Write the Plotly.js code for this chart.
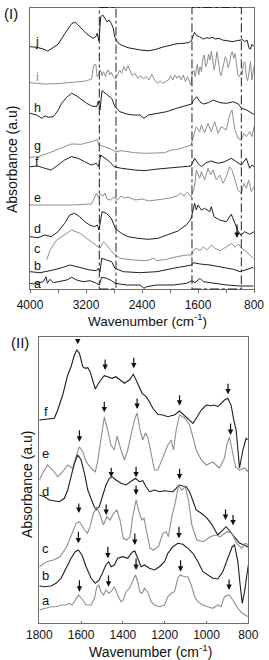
<!DOCTYPE html>
<html>
<head>
<meta charset="utf-8">
<script src="https://cdn.plot.ly/plotly-3.0.1.min.js"></script>
<style>html,body{margin:0;padding:0;background:#fff;}#chart{width:269px;height:660px;}</style>
</head>
<body>
<div id="chart"></div>
<script>
// ---------- Panel (I): wavenumber (cm-1) / absorbance (a.u., offset) ----------
const p1TickVals = [4000, 3200, 2400, 1600, 800];
const p1Bands = [[3010, 2771], [1686, 981]];

const p1_j_wn = [4000,3900,3800,3750,3700,3600,3500,3400,3350,3300,3200,3100,3060,3040,3015,2990,2960,2930,2900,2870,2840,2810,2790,2750,2700,2600,2500,2400,2300,2200,2100,2000,1900,1800,1720,1690,1650,1620,1580,1520,1480,1440,1400,1350,1300,1250,1200,1150,1100,1050,1000,960,930,900,870,850,830,800];
const p1_j_abs = [242.3,241.7,239.7,238,240,244.7,255.7,265.7,266.7,263.3,255.7,250.7,252.3,255.7,248,272.3,274,270.7,267.3,269,265.7,260.7,252.3,246.7,244,241.3,239.7,238.7,238.3,239.7,242,244,245.3,245.7,246.7,249,256.7,253.3,252.3,250,251.3,250.7,251.7,250,250.7,249,248.3,248,247.3,248.3,249,249.3,247.3,249,240.7,240,244.7,242.3];

const p1_i_wn = [4000,3800,3600,3400,3200,3120,3090,3060,3040,3010,2990,2970,2950,2920,2900,2880,2860,2840,2810,2780,2750,2720,2690,2660,2630,2600,2570,2540,2500,2460,2420,2380,2340,2300,2260,2220,2180,2140,2100,2060,2020,1990,1960,1930,1900,1870,1840,1810,1780,1750,1720,1700,1680,1660,1640,1610,1590,1570,1550,1530,1510,1490,1470,1450,1430,1410,1390,1370,1350,1330,1310,1290,1270,1250,1230,1210,1190,1170,1150,1130,1110,1090,1070,1050,1030,1010,990,970,950,930,910,890,870,850,830,810,800];
const p1_i_abs = [206.3,205,205.3,206.7,208,210,224,224.7,212.3,215.7,219,213.3,217.3,212.3,218,219,214,216.7,212.3,210,213.3,219,215.7,222.3,218,223.3,217.3,213.3,215.7,210.7,213.3,210,212.3,209,214.7,209,205.7,208,205.7,207.3,209,213.3,209,214,210.7,213.3,209,214,207.3,212.3,206.7,204,217.3,219,212.3,224.7,214,222.3,217.3,230.7,234,222.3,225.7,234.7,229,238,229,219,225.7,237.3,229,217.3,213.3,220.7,227.3,232.3,229,221.3,225.7,234,237.3,230.7,235.7,225.7,214,212.3,215.7,214,225.7,227.3,212.3,208,220.7,227.3,209,217.3,222.3];

const p1_h_wn = [4000,3905,3833,3786,3738,3667,3595,3548,3476,3405,3333,3262,3190,3119,3048,3024,3000,2971,2905,2833,2786,2714,2619,2524,2429,2371,2310,2190,2048,1905,1762,1690,1667,1619,1571,1524,1452,1381,1286,1190,1095,1024,976,905,810,800];
const p1_h_abs = [175.7,174,170.7,173,171.7,172.3,179,185.7,191.7,195.7,193,189,185.7,183,182.3,188,179,198.3,195,190.7,182.3,177.3,175,174,174,170.7,174,175.7,177.3,180.7,184,185,188.3,192.3,187.3,185,186.3,189,186.3,185.7,187.3,185,180.7,179,175,175];

const p1_g_wn = [4000,3886,3743,3600,3505,3410,3267,3171,3076,3038,3019,2933,2838,2781,2695,2600,2505,2362,2219,2076,1981,1886,1790,1700,1671,1624,1576,1552,1505,1457,1410,1362,1314,1267,1195,1148,1114,1076,1029,981,943,910,862,829,800];
const p1_g_abs = [131.7,132.3,135.7,139.7,143,145,144.7,146.3,148.3,149.7,144,142.3,139.7,137.3,138.3,137.3,136.3,135.7,135.7,136.3,139,139.7,141.7,144,150.7,162.3,157.3,164,156.3,165.7,157.3,167.3,155.7,162.3,159,174,179,160.3,150.7,149,155.7,152.3,157.3,152.3,162.3];

const p1_f_wn = [4000,3886,3790,3695,3600,3505,3410,3314,3219,3124,3052,3019,2990,2933,2862,2800,2695,2505,2362,2219,2029,1886,1743,1700,1648,1600,1552,1481,1410,1314,1219,1124,1052,981,910,862,829,800];
const p1_f_abs = [122.3,123,120.7,119,124,129,132.3,130.7,127.3,124,125.7,122.3,134,130.7,127.3,122.3,120.7,119,118.3,119.7,120.7,121.3,122.3,123,130.7,125.7,122.3,126.3,128,125.7,127.3,130.7,127.3,124,130.7,120.7,124,122.3];

const p1_e_wn = [4000,3400,3120,3080,3050,3020,3000,2960,2930,2900,2850,2800,2750,2700,2650,2600,2500,2400,2300,2200,2100,2000,1900,1850,1800,1750,1700,1680,1648,1624,1576,1552,1505,1457,1419,1386,1338,1290,1243,1195,1148,1114,1076,1029,981,943,910,876,838,800];
const p1_e_abs = [84,84,85,92,96,91,95,93,96,90,89,92,89,93,91,92,89,90,88,89,90,91,93,96,93,97,92,96,102.3,119,110.7,117.3,109,120.7,114,119,109,114,105.7,112.3,122.3,119,109,99,95.7,105.7,100.7,109,97.3,102.3];

const p1_d_wn = [4000,3886,3790,3695,3600,3505,3433,3362,3290,3219,3148,3076,3038,3014,2971,2910,2838,2781,2695,2600,2457,2314,2171,2029,1886,1767,1700,1648,1624,1600,1552,1505,1433,1410,1371,1290,1195,1124,1076,1029,990,933,862,800];
const p1_d_abs = [52.3,51.3,54,52.3,57.3,65.7,74,75.7,72.3,67.3,64,62.3,64,59,77.3,75.7,70.7,60.7,55.7,52.3,50.7,49.7,50.7,54,58,64,70,85.7,79,84,79,80.7,77.3,82.3,72.3,69,67.3,74.7,65.7,58,54,57.3,54.7,57.3];

const p1_c_wn = [3762,3714,3619,3476,3405,3286,3190,3095,3024,3000,2952,2905,2810,2714,2524,2333,2238,2190,2048,1905,1762,1690,1667,1619,1571,1524,1476,1405,1357,1286,1190,1119,1071,1024,976,905,810];
const p1_c_abs = [29,39,49,55.7,59,55.7,50.7,45.7,42.3,40.7,47.3,44,35.7,30.7,29,28.3,30.7,28.3,29.7,32.3,34,34,39,40.7,38.3,42.3,39,44,40.7,38.3,42.3,45.7,41.7,45,40.7,37.3,30.7];

const p1_b_wn = [4000,3857,3714,3571,3429,3286,3143,3048,3024,3000,2976,2905,2833,2786,2667,2429,2190,1952,1762,1690,1667,1571,1429,1286,1095,1000,905,810];
const p1_b_abs = [17.3,16.3,18.3,20.7,24,21.7,19,18.3,20.7,17.3,30.7,29,27.3,20.7,17.3,16.3,17.3,20.7,23,24,26.3,25,24,22.3,19.7,17.3,19.7,21.7];

const p1_a_wn = [4000,3952,3810,3771,3752,3714,3667,3571,3476,3405,3333,3238,3143,3048,3010,2976,2905,2833,2786,2619,2429,2371,2333,2190,1952,1762,1690,1643,1571,1524,1381,1190,1000,810];
const p1_a_abs = [5.7,5,7.3,12.3,5.7,9.7,6.3,7.3,9,11.7,9,7.3,8.3,5.7,4,11.7,10.7,8.3,5.7,4,4,0.7,2.3,4,4,5.7,8.3,6.3,10.7,7.3,5.7,4,3,3];

const p1_labels = ['j','i','h','g','f','e','d','c','b','a'];
const p1_labelAbs = [247,212,181,143.5,127,91,60,40,23,5];
const p1_arrowWn = [1043];
const p1_arrowAbs = [51];

// ---------- Panel (II): 1800-800 cm-1 ----------
const p2TickVals = [1800, 1600, 1400, 1200, 1000, 800];

const p2_f_wn = [1800,1768,1728,1712,1688,1664,1648,1632,1621,1608,1592,1580,1568,1557,1544,1532,1512,1489,1473,1452,1433,1413,1393,1369,1350,1337,1321,1308,1289,1273,1257,1233,1209,1185,1169,1153,1129,1113,1097,1081,1065,1049,1025,1001,978,962,946,930,914,898,882,871,858,842,826,810,804];
const p2_f_abs = [203.3,204,205,213.3,228.3,248.3,256.6,268.3,273.3,270,256.6,255,255.6,251.6,241.6,234.3,241.6,247.6,246.6,245,246.6,243.3,240,243.3,249,243.3,235,230,226.6,221.6,215,209,208.3,206.6,207.6,208.3,212.3,209,206.6,203.3,200,205,213.3,218.3,217.6,218.3,216.6,220,223.3,225,218,205,193,155.3,173.3,185.3,183.3];

const p2_e_wn = [1800,1784,1760,1736,1712,1688,1664,1640,1624,1608,1592,1576,1552,1532,1521,1505,1489,1473,1457,1441,1428,1409,1393,1377,1361,1345,1332,1318,1305,1292,1281,1265,1249,1233,1209,1185,1169,1158,1145,1129,1105,1081,1065,1049,1025,1001,970,938,914,903,890,874,861,842,818,800];
const p2_e_abs = [143.3,150,158.3,153.3,146.6,151.6,158.3,155,166.6,176.6,171.6,161.6,155,151.6,161.6,183.3,206.3,193.3,178.3,173.3,187.3,173.3,163.3,173.3,188.3,203.3,210.3,193.3,183.3,190.3,186.3,168.3,153.3,153.3,165.3,178.3,183.3,173.3,193.3,208.3,205.3,198.3,186.3,173.3,163.3,158.3,161.3,155.3,165.3,178.3,186.3,168.3,156.3,153.3,155.3,151.3];

const p2_d_wn = [1800,1776,1752,1728,1704,1680,1664,1648,1632,1616,1600,1584,1568,1544,1529,1513,1497,1481,1465,1452,1433,1409,1385,1361,1340,1321,1305,1289,1273,1249,1225,1201,1177,1161,1145,1132,1113,1097,1081,1065,1049,1025,1001,978,946,906,874,842,800];
const p2_d_abs = [128.3,126.6,123.3,122.6,121.6,125,133.3,146.6,160,168.3,163.3,150,133.3,120,113.3,116.6,126.6,138.3,145,146.6,143.3,140,138.3,141.6,145,141.6,142.6,136.6,131.6,133.3,131.6,132.6,131.6,131.6,135,138.3,137.3,136.6,131.6,121.6,113.3,110,106,100,88.3,96.6,88.3,80.3,76.3];

const p2_c_wn = [1800,1765,1733,1701,1669,1645,1624,1608,1589,1570,1557,1541,1525,1509,1493,1477,1461,1445,1429,1414,1398,1382,1366,1353,1337,1321,1310,1299,1286,1270,1254,1230,1209,1193,1182,1166,1150,1134,1118,1102,1086,1070,1046,1014,982,958,934,903,879,855,831,815,799];
const p2_c_abs = [56.6,61.6,63.3,66.6,76.6,90,100,101.6,95,90,96.6,110,116.6,108.3,98.3,106.6,103.3,110,113.3,103.3,85,83.3,86.6,106.6,123.3,110,103.3,105,90,75,73.3,76.6,90,91.6,86.6,106.6,120,138,133,137,123,98,83.3,81.6,86.6,88.3,86.6,91.6,90,80,75,80,78.3];

const p2_b_wn = [1800,1776,1744,1720,1696,1672,1648,1628,1613,1596,1576,1552,1532,1513,1497,1481,1468,1457,1441,1425,1401,1377,1356,1343,1329,1313,1297,1273,1249,1225,1201,1185,1161,1137,1113,1089,1065,1041,1017,994,970,946,922,898,877,866,850,839,829,818,807,800];
const p2_b_abs = [37.6,36.6,37.3,40,45,55,65,71.6,73.3,68.3,56.6,45,40,43.3,51.6,58.3,61.6,56.6,58.3,65,66.6,65,71,72.3,65,56.6,58.3,55,53.3,56.6,61.6,70,76.6,80,79,75,70,61.6,51.6,48.3,45,44.3,51.6,65,76.6,78.3,61.6,38.3,20,31.6,48.3,58.3];

const p2_a_wn = [1800,1776,1744,1720,1696,1672,1656,1643,1628,1612,1592,1576,1552,1536,1525,1516,1505,1493,1481,1468,1457,1441,1425,1409,1398,1385,1369,1353,1340,1329,1318,1308,1297,1281,1265,1249,1225,1201,1185,1169,1153,1137,1126,1105,1089,1073,1057,1041,1017,994,970,946,930,914,893,874,850,829,800];
const p2_a_abs = [13.3,15,16.6,16.6,18.3,18.3,20,18.3,23.3,28.3,23.3,18.3,18.3,25,36.6,38.3,31.6,28.3,33.3,30,31.6,36.6,28.3,21.6,23.3,31.6,35,43.3,48.3,41.6,31,30,35,31.6,21.6,18.3,16.6,18.3,26.6,30,31.6,45,48.3,46.6,46.6,38.3,26.6,21.6,18.3,16.6,15,18.3,16.6,26.6,28.3,23.3,15,10,6.6];

const p2_labels = ['f','e','d','c','b','a'];
const p2_labelAbs = [211.6,170,131.6,75,48.3,23.3];
const p2_arrowWn  = [1616,1485,1348,1129,897, 1489,1332,1608,885, 1456,1337,1129, 1611,1480,1337,909,873, 1613,1472,1343,1132, 1608,1469,1337,1124,892];
const p2_arrowAbs = [279,253.3,255,217.6,229, 211,214.3,181.6,188.3, 146,146,144, 110.3,108.3,128.3,103.3,97.8, 80,65,78.3,85, 31.6,36.6,53.3,51.6,33.3];
const p2_arrowLen = [4,12,12,12,12, 12,12,13,13, 11,12,12, 11,12,11,12,12, 13,13,13,13, 13,13,13,13,12];

// ---------- drawing ----------
const FONT = 'Liberation Sans, Arial, sans-serif';
const DARK = '#1f1f1f', GREY = '#8e8e8e', FRAME = '#6e6e6e', TXT = '#111';
const W = 269, H = 660;

const p1Series = [
  [p1_j_wn, p1_j_abs, DARK], [p1_i_wn, p1_i_abs, GREY], [p1_h_wn, p1_h_abs, DARK],
  [p1_g_wn, p1_g_abs, GREY], [p1_f_wn, p1_f_abs, DARK], [p1_e_wn, p1_e_abs, GREY],
  [p1_d_wn, p1_d_abs, DARK], [p1_c_wn, p1_c_abs, GREY], [p1_b_wn, p1_b_abs, DARK],
  [p1_a_wn, p1_a_abs, DARK]
];
const p2Series = [
  [p2_f_wn, p2_f_abs, DARK], [p2_e_wn, p2_e_abs, GREY], [p2_d_wn, p2_d_abs, DARK],
  [p2_c_wn, p2_c_abs, GREY], [p2_b_wn, p2_b_abs, DARK], [p2_a_wn, p2_a_abs, GREY]
];

const traces = [];
p1Series.forEach(s => traces.push({x: s[0], y: s[1], xaxis: 'x', yaxis: 'y', type: 'scatter', mode: 'lines',
  line: {color: s[2], width: 1}, showlegend: false, hoverinfo: 'skip'}));
p2Series.forEach(s => traces.push({x: s[0], y: s[1], xaxis: 'x2', yaxis: 'y2', type: 'scatter', mode: 'lines',
  line: {color: s[2], width: 1.1}, showlegend: false, hoverinfo: 'skip'}));

const annotations = [];
p1_labels.forEach((t, k) => annotations.push({x: 3900, y: p1_labelAbs[k], xref: 'x', yref: 'y', text: t,
  showarrow: false, font: {family: FONT, size: 12.5, color: t === 'i' ? GREY : TXT}}));
p2_labels.forEach((t, k) => annotations.push({x: 1768, y: p2_labelAbs[k], xref: 'x2', yref: 'y2', text: t,
  showarrow: false, font: {family: FONT, size: 13, color: TXT}}));
p1_arrowWn.forEach((w, k) => annotations.push({x: w, y: p1_arrowAbs[k], xref: 'x', yref: 'y', text: '',
  showarrow: true, arrowhead: 2, arrowsize: 0.9, arrowwidth: 1.2, arrowcolor: TXT, ax: 0, ay: -15, standoff: 0}));
p2_arrowWn.forEach((w, k) => annotations.push({x: w, y: p2_arrowAbs[k], xref: 'x2', yref: 'y2', text: '',
  showarrow: true, arrowhead: 2, arrowsize: 0.9, arrowwidth: 1.2, arrowcolor: TXT, ax: 0, ay: -p2_arrowLen[k], standoff: 0}));
// panel tags
annotations.push({x: 2/W, y: 1 - 3/H, xref: 'paper', yref: 'paper', xanchor: 'left', yanchor: 'top', text: '(I)',
  showarrow: false, font: {family: FONT, size: 15, color: TXT}});
annotations.push({x: 9/W, y: 1 - 332/H, xref: 'paper', yref: 'paper', xanchor: 'left', yanchor: 'top', text: '(II)',
  showarrow: false, font: {family: FONT, size: 15, color: TXT}});
// axis titles placed to match the reference
const TFONT = {family: FONT, size: 14, color: TXT};
annotations.push({x: 12/W, y: 1 - 160/H, xref: 'paper', yref: 'paper', xanchor: 'center', yanchor: 'middle',
  text: 'Absorbance (a.u)', textangle: -90, showarrow: false, font: TFONT});
annotations.push({x: 27/W, y: 1 - 485/H, xref: 'paper', yref: 'paper', xanchor: 'center', yanchor: 'middle',
  text: 'Absorbance (a.u)', textangle: -90, showarrow: false, font: TFONT});
annotations.push({x: 147/W, y: 1 - 320/H, xref: 'paper', yref: 'paper', xanchor: 'center', yanchor: 'middle',
  text: 'Wavenumber (cm<sup>-1</sup>)', showarrow: false, font: {family: FONT, size: 13.5, color: TXT}});
annotations.push({x: 150/W, y: 1 - 651/H, xref: 'paper', yref: 'paper', xanchor: 'center', yanchor: 'middle',
  text: 'Wavenumber (cm<sup>-1</sup>)', showarrow: false, font: TFONT});

const shapes = p1Bands.map(b => ({type: 'rect', xref: 'x', yref: 'y domain', x0: b[0], x1: b[1], y0: 0, y1: 1,
  line: {color: '#222', width: 1, dash: 'dashdot'}, fillcolor: 'rgba(0,0,0,0)'}));

const axisCommon = {showgrid: false, zeroline: false, showline: true, mirror: true, linecolor: FRAME, linewidth: 1};
const layout = {
  width: W, height: H, margin: {l: 0, r: 0, t: 0, b: 0},
  paper_bgcolor: '#fff', plot_bgcolor: '#fff',
  font: {family: FONT, color: TXT},
  xaxis: Object.assign({}, axisCommon, {domain: [30/W, 254/W], anchor: 'y', range: [4000, 800], autorange: false,
    tickmode: 'array', tickvals: p1TickVals, ticks: 'outside', ticklen: 3, tickcolor: FRAME, ticklabelstandoff: 2,
    minor: {dtick: 400, tick0: 800, ticks: 'outside', ticklen: 3, tickcolor: FRAME, showgrid: false},
    tickfont: {family: FONT, size: 12, color: TXT}}),
  yaxis: Object.assign({}, axisCommon, {domain: [1 - 289/H, 1 - 7.5/H], anchor: 'x', range: [0, 281.5], autorange: false,
    showticklabels: false, ticks: ''}),
  xaxis2: Object.assign({}, axisCommon, {domain: [39.3/W, 248.3/W], anchor: 'y2', range: [1800, 800], autorange: false,
    tickmode: 'array', tickvals: p2TickVals, ticks: 'inside', ticklen: 2, tickcolor: FRAME,
    tickfont: {family: FONT, size: 12, color: TXT}}),
  yaxis2: Object.assign({}, axisCommon, {domain: [1 - 623.3/H, 1 - 337.3/H], anchor: 'x2', range: [0, 286], autorange: false,
    showticklabels: false, ticks: ''}),
  annotations: annotations,
  shapes: shapes
};

Plotly.newPlot('chart', traces, layout, {staticPlot: true, displayModeBar: false});
</script>
</body>
</html>
